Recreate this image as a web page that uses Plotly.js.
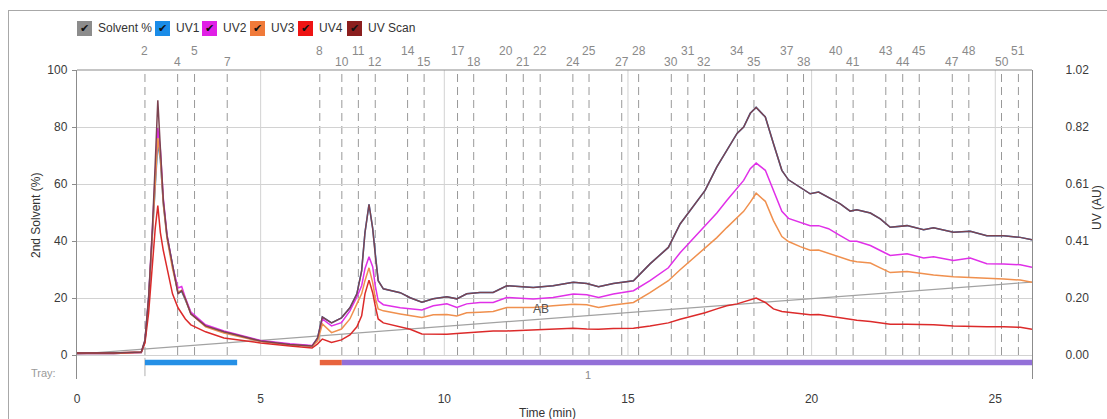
<!DOCTYPE html>
<html>
<head>
<meta charset="utf-8">
<script src="https://cdn.plot.ly/plotly-3.0.1.min.js"></script>
<style>
  html, body { margin: 0; padding: 0; background: #ffffff; }
  #chart { position: absolute; left: 0; top: 0; width: 1107px; height: 419px; }
  #frame { position: absolute; left: 8px; top: 10px; width: 1110px; height: 420px;
           border: 1px solid #a8a8a8; box-sizing: border-box; pointer-events: none; }
</style>
</head>
<body>
<div id="chart"></div>
<div id="frame"></div>
<script>
// ---- run data -------------------------------------------------------------
// Solvent gradient (% of 2nd solvent) vs time (min)
const solventTime = [0, 26];
const solventPct  = [0.3, 25.6];

// UV detector traces (AU), sampled on a common time base (min)
const time = [
  0, 1.0, 1.75, 1.85, 1.95, 2.05, 2.13, 2.2, 2.27, 2.35,
  2.45, 2.6, 2.75, 2.85, 2.95, 3.1, 3.5, 4.0, 5.0, 5.8,
  6.4, 6.55, 6.68, 6.93, 7.2, 7.43, 7.62, 7.75, 7.84, 7.95,
  8.05, 8.12, 8.2, 8.34, 8.8, 9.07, 9.39, 9.7, 10.07, 10.34,
  10.61, 10.97, 11.33, 11.7, 12.42, 12.96, 13.51, 13.88, 14.2, 14.6,
  15.15, 15.6, 16.1, 16.42, 17.1, 17.42, 17.69, 17.97, 18.15, 18.33,
  18.49, 18.74, 18.96, 19.19, 19.37, 19.69, 19.96, 20.19, 20.46, 20.78,
  21.05, 21.23, 21.6, 21.87, 22.14, 22.6, 23.05, 23.32, 23.86, 24.32,
  24.77, 25.23, 25.68, 26.0
];

const uv1 = [
  0.005, 0.005, 0.009, 0.050, 0.205, 0.424, 0.618, 0.758, 0.697, 0.542,
  0.424, 0.316, 0.222, 0.227, 0.198, 0.151, 0.104, 0.081, 0.050, 0.038,
  0.032, 0.061, 0.136, 0.115, 0.133, 0.169, 0.219, 0.302, 0.438, 0.539,
  0.453, 0.359, 0.266, 0.237, 0.223, 0.205, 0.189, 0.201, 0.208, 0.201,
  0.219, 0.224, 0.224, 0.248, 0.242, 0.248, 0.260, 0.256, 0.244, 0.256,
  0.266, 0.326, 0.385, 0.469, 0.589, 0.673, 0.733, 0.793, 0.816, 0.865,
  0.886, 0.852, 0.757, 0.661, 0.627, 0.601, 0.577, 0.583, 0.565, 0.541,
  0.515, 0.520, 0.508, 0.487, 0.457, 0.463, 0.448, 0.455, 0.439, 0.443,
  0.427, 0.427, 0.421, 0.412
];

const uv2 = [
  0.005, 0.005, 0.009, 0.050, 0.201, 0.427, 0.643, 0.812, 0.733, 0.560,
  0.431, 0.320, 0.240, 0.245, 0.205, 0.154, 0.108, 0.086, 0.052, 0.040,
  0.034, 0.057, 0.129, 0.104, 0.116, 0.158, 0.208, 0.248, 0.309, 0.352,
  0.316, 0.248, 0.194, 0.180, 0.169, 0.165, 0.161, 0.176, 0.183, 0.170,
  0.183, 0.188, 0.188, 0.206, 0.200, 0.206, 0.218, 0.216, 0.206, 0.218,
  0.230, 0.266, 0.312, 0.366, 0.463, 0.508, 0.553, 0.596, 0.625, 0.667,
  0.687, 0.661, 0.589, 0.514, 0.489, 0.474, 0.463, 0.463, 0.452, 0.427,
  0.407, 0.407, 0.392, 0.374, 0.356, 0.362, 0.347, 0.352, 0.338, 0.347,
  0.327, 0.326, 0.323, 0.314
];

const uv3 = [
  0.005, 0.005, 0.009, 0.047, 0.194, 0.417, 0.625, 0.776, 0.704, 0.539,
  0.417, 0.309, 0.225, 0.232, 0.199, 0.147, 0.101, 0.079, 0.048, 0.036,
  0.031, 0.050, 0.111, 0.080, 0.093, 0.129, 0.183, 0.219, 0.266, 0.312,
  0.259, 0.205, 0.165, 0.158, 0.147, 0.140, 0.134, 0.144, 0.145, 0.140,
  0.151, 0.153, 0.156, 0.170, 0.170, 0.176, 0.182, 0.180, 0.170, 0.179,
  0.188, 0.223, 0.266, 0.305, 0.381, 0.420, 0.456, 0.492, 0.514, 0.547,
  0.579, 0.550, 0.481, 0.424, 0.406, 0.388, 0.375, 0.376, 0.364, 0.349,
  0.338, 0.334, 0.329, 0.312, 0.295, 0.299, 0.290, 0.286, 0.280, 0.278,
  0.275, 0.272, 0.268, 0.260
];

const uv4 = [
  0.007, 0.007, 0.011, 0.043, 0.151, 0.320, 0.453, 0.535, 0.438, 0.374,
  0.309, 0.219, 0.169, 0.147, 0.129, 0.108, 0.083, 0.061, 0.043, 0.032,
  0.025, 0.040, 0.057, 0.045, 0.054, 0.072, 0.101, 0.140, 0.219, 0.268,
  0.223, 0.176, 0.129, 0.115, 0.102, 0.092, 0.075, 0.074, 0.074, 0.077,
  0.080, 0.083, 0.086, 0.086, 0.089, 0.092, 0.096, 0.093, 0.092, 0.095,
  0.096, 0.104, 0.115, 0.128, 0.151, 0.165, 0.176, 0.183, 0.190, 0.198,
  0.204, 0.188, 0.165, 0.156, 0.153, 0.149, 0.144, 0.145, 0.140, 0.133,
  0.128, 0.124, 0.120, 0.115, 0.110, 0.110, 0.110, 0.108, 0.104, 0.102,
  0.101, 0.101, 0.099, 0.092
];

const uvScan = [
  0.007, 0.007, 0.011, 0.054, 0.208, 0.445, 0.686, 0.912, 0.740, 0.553,
  0.427, 0.316, 0.219, 0.230, 0.201, 0.147, 0.104, 0.083, 0.050, 0.038,
  0.032, 0.061, 0.136, 0.115, 0.133, 0.169, 0.219, 0.302, 0.438, 0.539,
  0.453, 0.359, 0.266, 0.237, 0.223, 0.205, 0.189, 0.201, 0.208, 0.201,
  0.219, 0.224, 0.224, 0.248, 0.242, 0.248, 0.260, 0.256, 0.244, 0.256,
  0.266, 0.326, 0.385, 0.469, 0.589, 0.673, 0.733, 0.793, 0.816, 0.865,
  0.886, 0.852, 0.757, 0.661, 0.627, 0.601, 0.577, 0.583, 0.565, 0.541,
  0.515, 0.520, 0.508, 0.487, 0.457, 0.463, 0.448, 0.455, 0.439, 0.443,
  0.427, 0.427, 0.421, 0.412
];

// Collected fractions: tube number and time at which it starts (min)
const fracNums  = [2, 4, 5, 7, 8, 10, 11, 12, 14, 15, 17, 18, 20, 21, 22, 24, 25, 27,
                   28, 30, 31, 32, 34, 35, 37, 38, 40, 41, 43, 44, 45, 47, 48, 50, 51];
const fracTimes = [1.85, 2.74, 3.20, 4.09, 6.61, 7.21, 7.66, 8.12, 9.00, 9.45, 10.36, 10.80,
                   11.69, 12.15, 12.61, 13.50, 13.94, 14.83, 15.29, 16.18, 16.63, 17.08,
                   17.98, 18.43, 19.34, 19.78, 20.67, 21.13, 22.02, 22.48, 22.93, 23.83,
                   24.28, 25.17, 25.63];

// Rack usage bar under the trace
const trayStart = [1.85, 6.61, 7.21];
const trayEnd   = [4.36, 7.21, 26.0];
const trayColor = ['#2590e6', '#e8643e', '#9370d8'];

// Axis ticks
const xTicks   = [0, 5, 10, 15, 20, 25];
const pctTicks = [0, 20, 40, 60, 80, 100];
const uvTicks  = [0, 0.204, 0.408, 0.612, 0.816, 1.02];
const uvTickText = ['0.00', '0.20', '0.41', '0.61', '0.82', '1.02'];

// Series names and colours
const seriesNames  = ['Solvent %', 'UV1', 'UV2', 'UV3', 'UV4', 'UV Scan'];
const swatchColors = ['#8c8c8c', '#1a8ce8', '#e020e6', '#f07a3a', '#ee1414', '#8b1e1e'];

// ---- drawing ---------------------------------------------------------------
const W = 1107, H = 419;
const L = 77, R = 1032, T = 70, B = 379;          // plot area in pixels
const yMin = -(B - 355) / 2.85;                    // room below 0 for the tray bar
const uvMax = 1.02;
const px2x = p => (p - L) / (R - L);
const py2y = p => (B - p) / (B - T);
const FONT = 'Liberation Sans, Arial, sans-serif';

const lineStyles = [
  { color: '#a2a2a2', width: 1.2 },
  { color: '#2a8be0', width: 1.5 },
  { color: '#e030e8', width: 1.5 },
  { color: '#f0904e', width: 1.5 },
  { color: '#dc2a2a', width: 1.5 },
  { color: '#7c4350', width: 1.5 }
];

const uvSeries = [uv1, uv2, uv3, uv4, uvScan];
const traces = [{
  x: solventTime, y: solventPct, yaxis: 'y', mode: 'lines',
  name: seriesNames[0], line: lineStyles[0], hoverinfo: 'skip'
}];
uvSeries.forEach((vals, i) => {
  traces.push({
    x: time, y: vals, yaxis: 'y2', mode: 'lines',
    name: seriesNames[i + 1], line: lineStyles[i + 1], hoverinfo: 'skip'
  });
});

const shapes = [];
// vertical time grid
xTicks.filter(v => v > 0).forEach(v => shapes.push({
  type: 'line', xref: 'x', yref: 'y', x0: v, x1: v, y0: 0, y1: 100,
  line: { color: '#d2d2d2', width: 1 }, layer: 'below'
}));
// fraction markers
fracTimes.forEach(t => shapes.push({
  type: 'line', xref: 'x', yref: 'y', x0: t, x1: t, y0: 0, y1: 100,
  line: { color: '#999999', width: 1, dash: '8px,5px' }, layer: 'below'
}));
// first collection start mark into the tray row
shapes.push({
  type: 'line', xref: 'x', yref: 'y', x0: fracTimes[0], x1: fracTimes[0],
  y0: -1, y1: yMin + 1, line: { color: '#b0b0b0', width: 1 }
});
// top border of the plot
shapes.push({
  type: 'line', xref: 'paper', yref: 'paper', x0: 0, x1: 1, y0: 1, y1: 1,
  line: { color: '#8c8c8c', width: 1.2 }
});
// tray bar
trayStart.forEach((s, i) => shapes.push({
  type: 'rect', xref: 'x', yref: 'y', x0: s, x1: trayEnd[i], y0: -1.7, y1: -3.6,
  fillcolor: trayColor[i], line: { width: 0 }
}));

const annotations = [];
// fraction numbers, staggered over two rows
fracNums.forEach((n, i) => annotations.push({
  xref: 'x', yref: 'paper', x: fracTimes[i], y: py2y(i % 2 === 0 ? 51 : 62),
  text: String(n), showarrow: false, xanchor: 'center', yanchor: 'middle',
  font: { family: FONT, size: 12, color: '#8a8a8a' }
}));

// custom legend with check boxes
const legendSwatchX = [77, 155, 202, 250, 298, 347];
seriesNames.forEach((name, i) => {
  const sx = legendSwatchX[i];
  shapes.push({
    type: 'rect', xref: 'paper', yref: 'paper',
    x0: px2x(sx), x1: px2x(sx + 15), y0: py2y(36), y1: py2y(21),
    fillcolor: swatchColors[i], line: { width: 0 }
  });
  annotations.push({
    xref: 'paper', yref: 'paper', x: px2x(sx + 7.5), y: py2y(28.5),
    text: '\u2714', showarrow: false, xanchor: 'center', yanchor: 'middle',
    font: { family: 'DejaVu Sans', size: 11, color: '#111111' }
  });
  annotations.push({
    xref: 'paper', yref: 'paper', x: px2x(sx + 19), y: py2y(28.5),
    text: name, showarrow: false, xanchor: 'left', yanchor: 'middle',
    font: { family: FONT, size: 12, color: '#333333' }
  });
});

// axis titles and labels
annotations.push({
  xref: 'paper', yref: 'paper', x: px2x(36), y: py2y(216), textangle: -90,
  text: '2nd Solvent (%)', showarrow: false, xanchor: 'center', yanchor: 'middle',
  font: { family: FONT, size: 12, color: '#333333' }
});
annotations.push({
  xref: 'paper', yref: 'paper', x: px2x(1097), y: py2y(208), textangle: -90,
  text: 'UV (AU)', showarrow: false, xanchor: 'center', yanchor: 'middle',
  font: { family: FONT, size: 12, color: '#333333' }
});
annotations.push({
  xref: 'paper', yref: 'paper', x: px2x(547), y: py2y(413),
  text: 'Time (min)', showarrow: false, xanchor: 'center', yanchor: 'middle',
  font: { family: FONT, size: 12, color: '#333333' }
});
annotations.push({
  xref: 'paper', yref: 'paper', x: px2x(58), y: py2y(373),
  text: 'Tray:', showarrow: false, xanchor: 'right', yanchor: 'middle',
  font: { family: FONT, size: 11, color: '#9a9a9a' }
});
annotations.push({
  xref: 'x', yref: 'paper', x: 13.92, y: py2y(375),
  text: '1', showarrow: false, xanchor: 'center', yanchor: 'middle',
  font: { family: FONT, size: 11, color: '#8a8a8a' }
});
annotations.push({
  xref: 'x', yref: 'y', x: 12.64, y: 16.3,
  text: 'AB', showarrow: false, xanchor: 'center', yanchor: 'middle',
  font: { family: FONT, size: 12, color: '#555555' }
});

const layout = {
  width: W, height: H,
  margin: { l: L, r: W - R, t: T, b: H - B, pad: 0 },
  paper_bgcolor: '#ffffff', plot_bgcolor: '#ffffff',
  showlegend: false,
  font: { family: FONT, size: 12, color: '#333333' },
  xaxis: {
    range: [0, 26], tickvals: xTicks, ticks: '', showgrid: false, zeroline: false,
    showline: false, ticklabelstandoff: 11,
    tickfont: { family: FONT, size: 12, color: '#3a3a3a' }
  },
  yaxis: {
    range: [yMin, 100], tickvals: pctTicks, showgrid: true, gridcolor: '#d2d2d2',
    gridwidth: 1, zeroline: false, showline: true, linecolor: '#8c8c8c', linewidth: 1.2,
    ticks: 'outside', ticklen: 4, tickcolor: '#8c8c8c', ticklabelstandoff: 2,
    tickfont: { family: FONT, size: 12, color: '#3a3a3a' }
  },
  yaxis2: {
    overlaying: 'y', side: 'right', range: [yMin * uvMax / 100, uvMax],
    tickvals: uvTicks, ticktext: uvTickText, showgrid: false, zeroline: false,
    showline: true, linecolor: '#8c8c8c', linewidth: 1.2, ticks: '', ticklabelstandoff: 30,
    tickfont: { family: FONT, size: 12, color: '#3a3a3a' }
  },
  shapes: shapes,
  annotations: annotations
};

Plotly.newPlot('chart', traces, layout, { staticPlot: true, displayModeBar: false });
</script>
</body>
</html>
